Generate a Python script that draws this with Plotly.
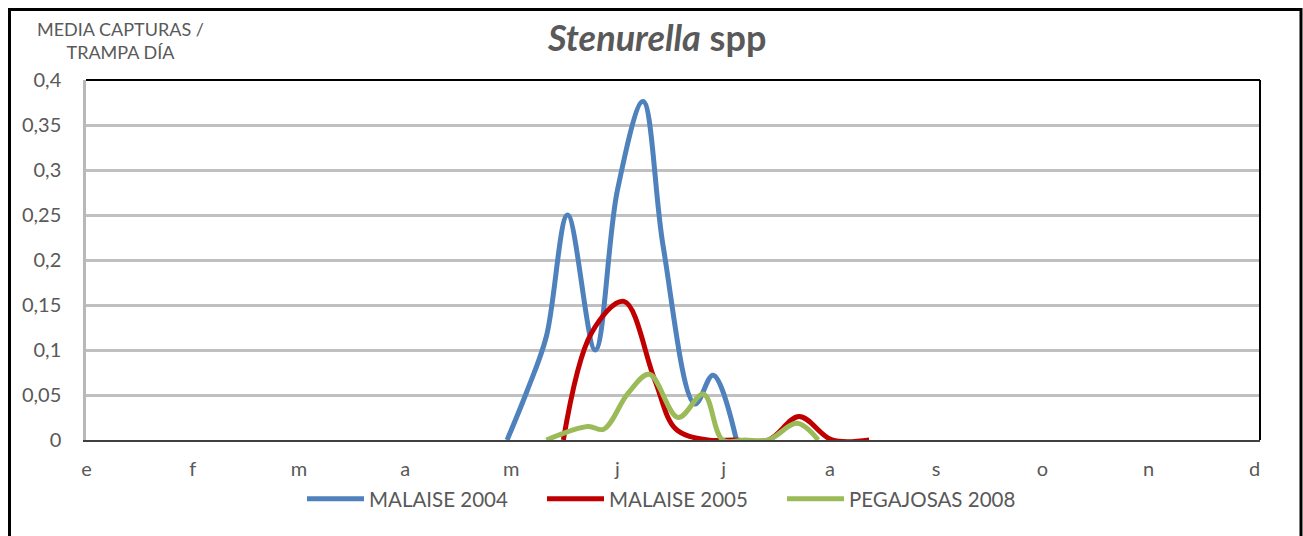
import plotly.graph_objects as go

# Month tick labels (x positions are month indices, 0 = January)
meses = ["e", "f", "m", "a", "m", "j", "j", "a", "s", "o", "n", "d"]
mes_pos = list(range(12))

# MALAISE 2004
x_2004 = [3.96, 4.15, 4.33, 4.53, 4.79, 5.00, 5.24, 5.43, 5.73, 5.90, 6.12]
y_2004 = [0.0, 0.055, 0.115, 0.25, 0.10, 0.278, 0.376, 0.215, 0.04, 0.072, 0.0]

# MALAISE 2005
x_2005 = [4.49, 4.755, 5.06, 5.35, 5.55, 5.85, 6.10, 6.42, 6.71, 7.02, 7.37]
y_2005 = [0.0, 0.119, 0.154, 0.067, 0.012, 0.0, 0.0, 0.0, 0.026, 0.0, 0.0]

# PEGAJOSAS 2008
x_2008 = [4.33, 4.72, 4.87, 5.10, 5.30, 5.57, 5.81, 5.99, 6.20, 6.42, 6.69, 6.89]
y_2008 = [0.0, 0.015, 0.012, 0.052, 0.073, 0.025, 0.051, 0.0, 0.0, 0.0, 0.0185, 0.0]

y_ticks = [0, 0.05, 0.1, 0.15, 0.2, 0.25, 0.3, 0.35, 0.4]
y_ticktext = ["0", "0,05", "0,1", "0,15", "0,2", "0,25", "0,3", "0,35", "0,4"]

series = [
    ("MALAISE 2004", x_2004, y_2004, "#4f81bd"),
    ("MALAISE 2005", x_2005, y_2005, "#c00000"),
    ("PEGAJOSAS 2008", x_2008, y_2008, "#9bbb59"),
]

FONT = "Lato"
GREY = "#595959"

fig = go.Figure()
for name, xs, ys, col in series:
    fig.add_trace(go.Scatter(
        x=xs, y=ys, name=name, mode="lines",
        line=dict(color=col, width=5, shape="spline", smoothing=1),
    ))

W, H = 1303, 536
L, R, T, B = 86, 43, 80, 96
pw, ph = W - L - R, H - T - B

def px(x):
    return (x - L) / pw

def py(y):
    return (T + ph - y) / ph

fig.update_layout(
    width=W, height=H,
    margin=dict(l=L, r=R, t=T, b=B, autoexpand=False),
    paper_bgcolor="white", plot_bgcolor="white",
    font=dict(family=FONT, color=GREY),
    showlegend=True,
    legend=dict(
        orientation="h", x=px(302), xanchor="left", y=py(499), yanchor="middle",
        font=dict(family=FONT, size=20.5, color=GREY), itemwidth=57,
        entrywidth=168, entrywidthmode="pixels",
        bgcolor="rgba(0,0,0,0)",
    ),
    xaxis=dict(
        range=[-0.005, 11.05], tickvals=mes_pos, ticktext=meses,
        showgrid=False, zeroline=False, showline=True, linecolor="#404040", linewidth=1.5,
        ticks="outside", ticklen=10, tickcolor="rgba(0,0,0,0)",
        tickfont=dict(family=FONT, size=20, color=GREY),
    ),
    yaxis=dict(
        range=[0, 0.4], tickvals=y_ticks, ticktext=y_ticktext,
        showgrid=True, gridcolor="#c0c0c0", gridwidth=2.5,
        zeroline=False, showline=True, linecolor="#b8b8b8", linewidth=2.5,
        ticks="outside", ticklen=18, tickcolor="rgba(0,0,0,0)",
        tickfont=dict(family=FONT, size=20, color=GREY),
    ),
    shapes=[
        dict(type="line", xref="paper", yref="paper", x0=0, x1=1, y0=1, y1=1,
             line=dict(color="black", width=2)),
        dict(type="line", xref="paper", yref="paper", x0=1, x1=1, y0=0, y1=1,
             line=dict(color="black", width=2)),
        dict(type="rect", xref="paper", yref="paper",
             x0=px(9.5), x1=px(1301), y0=py(550), y1=py(9.5),
             line=dict(color="black", width=3)),
    ],
    annotations=[
        dict(text="<b><i>Stenurella</i> spp</b>", xref="paper", yref="paper",
             x=px(656), y=py(37), xanchor="center", yanchor="middle", showarrow=False,
             font=dict(family=FONT, size=36, color=GREY)),
        dict(text="MEDIA CAPTURAS /<br>TRAMPA DÍA", xref="paper", yref="paper",
             x=px(120), y=py(41), xanchor="center", yanchor="middle", showarrow=False,
             align="center", font=dict(family=FONT, size=18, color=GREY)),
    ],
)

fig.write_html("out.html", config={"displayModeBar": False},
               post_script="document.body.style.margin='0';")
